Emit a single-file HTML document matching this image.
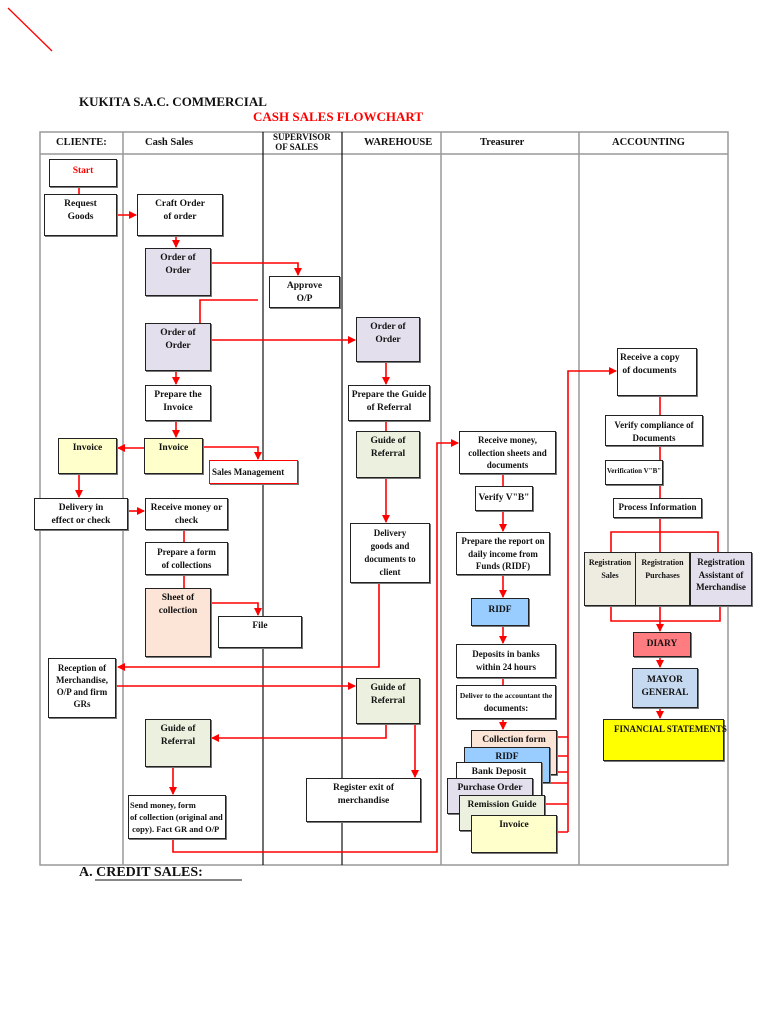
<!DOCTYPE html>
<html><head><meta charset="utf-8"><style>
body{margin:0;width:768px;height:1024px;background:#fff;position:relative;overflow:hidden;font-family:"Liberation Serif",serif;}
.b{position:absolute;border:1.3px solid #222;box-sizing:border-box;background:#fff;font-weight:bold;font-size:9.5px;line-height:13px;text-align:center;padding-top:3px;color:#111;box-shadow:1px 1px 0 #777}
.t{position:absolute;font-weight:bold;font-size:10px;color:#111}
.lav{background:#e4dfec}.yel{background:#ffffcc}.grn{background:#ebf1de}.pea{background:#fce4d6}.blu{background:#99ccff}.beg{background:#eeece1}
svg{position:absolute;left:0;top:0}
</style></head><body>
<svg width="768" height="1024">
<defs><marker id="a" markerWidth="8" markerHeight="8" refX="7" refY="4" orient="auto" markerUnits="userSpaceOnUse"><path d="M0,0L8,4L0,8z" fill="#f00"/></marker></defs>
<line x1="8" y1="8" x2="52" y2="51" stroke="#f00" stroke-width="1.3"/>
<g stroke="#999" stroke-width="1.5" fill="none">
<rect x="40" y="132" width="688" height="733"/>
<line x1="40" y1="154" x2="728" y2="154"/>
<line x1="123" y1="132" x2="123" y2="865"/>
<line x1="441" y1="132" x2="441" y2="865"/>
<line x1="579" y1="132" x2="579" y2="865"/>
</g>
<g stroke="#111" stroke-width="1.2"><line x1="263" y1="132" x2="263" y2="865"/><line x1="342" y1="132" x2="342" y2="865"/></g>
<line x1="95" y1="880" x2="242" y2="880" stroke="#111" stroke-width="1"/>
<g stroke="#f00" stroke-width="1.6" fill="none">
<path d="M79 187V194"/>
<path d="M117 215H136" marker-end="url(#a)"/>
<path d="M176 236V247" marker-end="url(#a)"/>
<path d="M211 263H298V275" marker-end="url(#a)"/>
<path d="M258 300H200V323"/>
<path d="M211 340H355" marker-end="url(#a)"/>
<path d="M176 371V384" marker-end="url(#a)"/>
<path d="M176 421V437" marker-end="url(#a)"/>
<path d="M144 448H118" marker-end="url(#a)"/>
<path d="M203 447H258V459" marker-end="url(#a)"/>
<path d="M386 362V384" marker-end="url(#a)"/>
<path d="M386 421V431"/>
<path d="M386 478V522" marker-end="url(#a)"/>
<path d="M79 474V497" marker-end="url(#a)"/>
<path d="M128 511H144" marker-end="url(#a)"/>
<path d="M184 530V542"/>
<path d="M184 575V588"/>
<path d="M211 603H258V615" marker-end="url(#a)"/>
<path d="M379 583V667H118" marker-end="url(#a)"/>
<path d="M117 686H355" marker-end="url(#a)"/>
<path d="M386 724V738H212" marker-end="url(#a)"/>
<path d="M415 724V777" marker-end="url(#a)"/>
<path d="M173 767V794" marker-end="url(#a)"/>
<path d="M173 839V852H437V443H458" marker-end="url(#a)"/>
<path d="M503 474V486"/>
<path d="M503 511V531" marker-end="url(#a)"/>
<path d="M503 575V597" marker-end="url(#a)"/>
<path d="M503 626V643" marker-end="url(#a)"/>
<path d="M503 678V685"/>
<path d="M503 719V729" marker-end="url(#a)"/>
<path d="M557 737H568M557 756H568M550 772H568M550 783H568M545 804H568M557 832H568"/>
<path d="M568 832V371H616" marker-end="url(#a)"/>
<path d="M660 396V415M660 446V460M660 485V498M660 518V532M611 552V532H718V552M660 532V552"/>
<path d="M611 606V621H720V606M660 606V631" marker-end="url(#a)"/>
<path d="M660 657V667" marker-end="url(#a)"/>
<path d="M660 708V718" marker-end="url(#a)"/>
</g>
</svg>
<div class="t" style="left:79px;top:94px;font-size:13px">KUKITA S.A.C. COMMERCIAL</div>
<div class="t" style="left:253px;top:109px;font-size:13px;color:#f00">CASH SALES FLOWCHART</div>
<div class="t" style="left:56px;top:137px;font-size:10.5px">CLIENTE:</div>
<div class="t" style="left:145px;top:137px;font-size:10.5px">Cash Sales</div>
<div class="t" style="left:273px;top:132px;font-size:9px;line-height:10px">SUPERVISOR<br>&nbsp;OF SALES</div>
<div class="t" style="left:364px;top:137px;font-size:10.5px">WAREHOUSE</div>
<div class="t" style="left:480px;top:137px;font-size:10.5px">Treasurer</div>
<div class="t" style="left:612px;top:137px;font-size:10.5px">ACCOUNTING</div>
<div class="t" style="left:79px;top:865px;font-size:14px">A. CREDIT SALES:</div>

<div class="b" style="left:49px;top:159px;width:68px;height:28px;color:#f00;padding-top:5px">Start</div>
<div class="b" style="left:44px;top:194px;width:73px;height:42px">Request<br>Goods</div>
<div class="b" style="left:137px;top:194px;width:86px;height:42px">Craft Order<br>of order</div>
<div class="b lav" style="left:145px;top:248px;width:66px;height:48px">Order of<br>Order</div>
<div class="b" style="left:269px;top:276px;width:71px;height:32px">Approve<br>O/P</div>
<div class="b lav" style="left:145px;top:323px;width:66px;height:48px">Order of<br>Order</div>
<div class="b lav" style="left:356px;top:317px;width:64px;height:45px">Order of<br>Order</div>
<div class="b" style="left:145px;top:385px;width:66px;height:36px">Prepare the<br>Invoice</div>
<div class="b" style="left:348px;top:385px;width:82px;height:36px">Prepare the Guide<br>of Referral</div>
<div class="b yel" style="left:58px;top:438px;width:59px;height:36px">Invoice</div>
<div class="b yel" style="left:144px;top:438px;width:59px;height:36px">Invoice</div>
<div class="b" style="left:209px;top:460px;width:89px;height:24px;border-color:#f00;text-align:left;padding:5px 0 0 2px;font-size:9px">Sales Management</div>
<div class="b grn" style="left:356px;top:431px;width:64px;height:47px">Guide of<br>Referral</div>
<div class="b" style="left:459px;top:431px;width:97px;height:43px;font-size:9px;line-height:12.5px;padding-top:2px">Receive money,<br>collection sheets and<br>documents</div>
<div class="b" style="left:34px;top:498px;width:94px;height:32px">Delivery in<br>effect or check</div>
<div class="b" style="left:145px;top:498px;width:83px;height:32px">Receive money or<br>check</div>
<div class="b" style="left:475px;top:486px;width:58px;height:25px;padding-top:5px">Verify V"B"</div>
<div class="b" style="left:145px;top:542px;width:83px;height:33px;font-size:9px">Prepare a form<br>of collections</div>
<div class="b" style="left:350px;top:523px;width:80px;height:60px;font-size:9px">Delivery<br>goods and<br>documents to<br>client</div>
<div class="b" style="left:456px;top:532px;width:94px;height:43px;font-size:9px;line-height:12.5px;padding-top:2px">Prepare the report on<br>daily income from<br>Funds (RIDF)</div>
<div class="b pea" style="left:145px;top:588px;width:66px;height:69px">Sheet of<br>collection</div>
<div class="b" style="left:218px;top:616px;width:84px;height:32px">File</div>
<div class="b blu" style="left:471px;top:598px;width:58px;height:28px;padding-top:5px">RIDF</div>
<div class="b" style="left:456px;top:644px;width:100px;height:34px;font-size:9px">Deposits in banks<br>within 24 hours</div>
<div class="b" style="left:48px;top:658px;width:68px;height:60px;font-size:9px;line-height:12px">Reception of<br>Merchandise,<br>O/P and firm<br>GRs</div>
<div class="b grn" style="left:356px;top:678px;width:64px;height:46px">Guide of<br>Referral</div>
<div class="b" style="left:456px;top:685px;width:100px;height:34px;font-size:7.5px">Deliver to the accountant the<br><span style="font-size:9px">documents:</span></div>
<div class="b grn" style="left:145px;top:719px;width:66px;height:48px">Guide of<br>Referral</div>
<div class="b" style="left:306px;top:778px;width:115px;height:44px">Register exit of<br>merchandise</div>
<div class="b" style="left:128px;top:795px;width:98px;height:44px;font-size:8.5px;line-height:12px;text-align:left;padding-left:1px">Send money, form<br>of collection (original and<br>&nbsp;copy). Fact GR and O/P</div>
<div class="b pea" style="left:471px;top:730px;width:86px;height:45px">Collection form</div>
<div class="b blu" style="left:464px;top:747px;width:86px;height:36px">RIDF</div>
<div class="b" style="left:456px;top:762px;width:86px;height:36px">Bank Deposit</div>
<div class="b lav" style="left:447px;top:778px;width:86px;height:36px">Purchase Order</div>
<div class="b grn" style="left:459px;top:795px;width:86px;height:36px">Remission Guide</div>
<div class="b yel" style="left:471px;top:815px;width:86px;height:38px">Invoice</div>
<div class="b" style="left:617px;top:348px;width:80px;height:48px;text-align:left;padding-left:2px">Receive a copy<br>&nbsp;of documents</div>
<div class="b" style="left:605px;top:415px;width:98px;height:31px;font-size:9px">Verify compliance of<br>Documents</div>
<div class="b" style="left:605px;top:460px;width:58px;height:25px;font-size:7px;padding-top:4px">Verification V"B"</div>
<div class="b" style="left:613px;top:498px;width:89px;height:20px;padding-top:2px;font-size:9px">Process Information</div>
<div class="b beg" style="left:584px;top:552px;width:52px;height:54px;font-size:8px">Registration<br>Sales</div>
<div class="b beg" style="left:635px;top:552px;width:55px;height:54px;font-size:8px">Registration<br>Purchases</div>
<div class="b lav" style="left:690px;top:552px;width:62px;height:54px;font-size:9px;line-height:12.5px">Registration<br>Assistant of<br>Merchandise</div>
<div class="b" style="left:633px;top:632px;width:58px;height:25px;background:#ff7c80;padding-top:5px">DIARY</div>
<div class="b" style="left:632px;top:668px;width:66px;height:40px;background:#c5d9f1;padding-top:5px">MAYOR<br>GENERAL</div>
<div class="b" style="left:603px;top:719px;width:121px;height:42px;background:#ffff00;font-size:9px;white-space:nowrap;text-align:left;padding-left:10px">FINANCIAL STATEMENTS</div>
</body></html>
